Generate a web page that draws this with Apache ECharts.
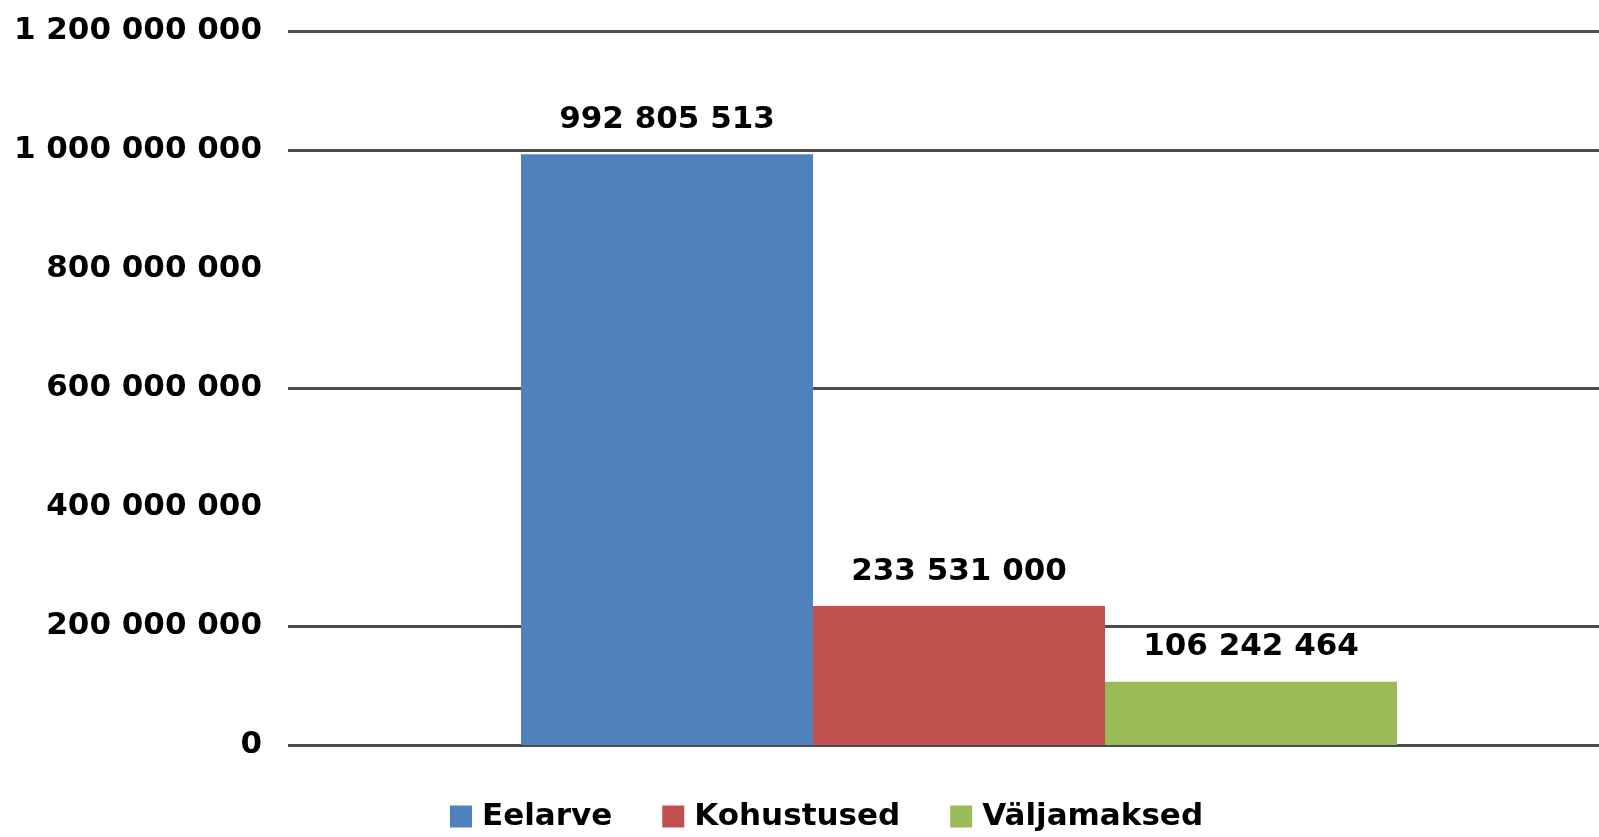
<!DOCTYPE html>
<html>
<head>
<meta charset="utf-8">
<script src="https://cdn.jsdelivr.net/npm/echarts@6/dist/echarts.min.js"></script>
<style>
html,body{margin:0;padding:0;background:#fff;}
#chart{width:1599px;height:837px;}
</style>
</head>
<body>
<div id="chart"></div>
<script>
const categories = [''];
const seriesNames = ['Eelarve', 'Kohustused', 'Väljamaksed'];
const eelarve = [992805513];
const kohustused = [233531000];
const valjamaksed = [106242464];
const yTickLabels = ['0', '200 000 000', '400 000 000', '600 000 000', '800 000 000', '1 000 000 000', '1 200 000 000'];

const colors = ['#4F81BD', '#C0504D', '#9BBB59'];
const fontFamily = 'DejaVu Sans';
const fmt = v => String(v).replace(/\B(?=(\d{3})+(?!\d))/g, ' ');

const chart = echarts.init(document.getElementById('chart'), null, {renderer: 'canvas'});
const gridColor = '#4d4d4d';
const yMin = 0, yMax = 1200000000, yStep = 200000000;
const labelStyle = {
  show: true, position: 'top', distance: 19,
  color: '#000', fontFamily: fontFamily, fontWeight: 'bold', fontSize: 31,
  formatter: p => fmt(p.value)
};
const mk = (name, data, color) => ({
  name: name, type: 'bar', data: data, barWidth: 292, barGap: '0%',
  xAxisIndex: 1, yAxisIndex: 1,
  itemStyle: {color: color}, label: labelStyle
});
const hiddenX = {
  type: 'category', data: categories,
  axisLine: {show: false}, axisTick: {show: false}, axisLabel: {show: false}, splitLine: {show: false}
};

chart.setOption({
  animation: false,
  color: colors,
  grid: [
    {left: 288, right: 0, top: 31, height: 714, containLabel: false},
    {left: 319, right: 0, top: 31, height: 714, containLabel: false}
  ],
  legend: {
    left: 450, top: 801, padding: 0,
    itemWidth: 22, itemHeight: 22, itemGap: 50,
    icon: 'rect',
    textStyle: {fontFamily: fontFamily, fontWeight: 'bold', fontSize: 31, color: '#000', padding: [0, 0, 0, 5]},
    data: seriesNames
  },
  xAxis: [
    Object.assign({gridIndex: 0}, hiddenX),
    Object.assign({gridIndex: 1}, hiddenX)
  ],
  yAxis: [
    {
      gridIndex: 0, type: 'value', min: yMin, max: yMax, interval: yStep,
      axisLine: {show: false}, axisTick: {show: false},
      axisLabel: {
        margin: 26, color: '#000', fontFamily: fontFamily, fontWeight: 'bold', fontSize: 31,
        formatter: v => yTickLabels[Math.round(v / yStep)]
      },
      splitLine: {show: true, lineStyle: {
        color: [gridColor, gridColor, 'rgba(0,0,0,0)', gridColor, 'rgba(0,0,0,0)', gridColor, gridColor],
        width: 3
      }}
    },
    {
      gridIndex: 1, type: 'value', min: yMin, max: yMax, interval: yStep,
      axisLine: {show: false}, axisTick: {show: false}, axisLabel: {show: false}, splitLine: {show: false}
    }
  ],
  series: [
    mk(seriesNames[0], eelarve, colors[0]),
    mk(seriesNames[1], kohustused, colors[1]),
    mk(seriesNames[2], valjamaksed, colors[2])
  ]
});
</script>
</body>
</html>
